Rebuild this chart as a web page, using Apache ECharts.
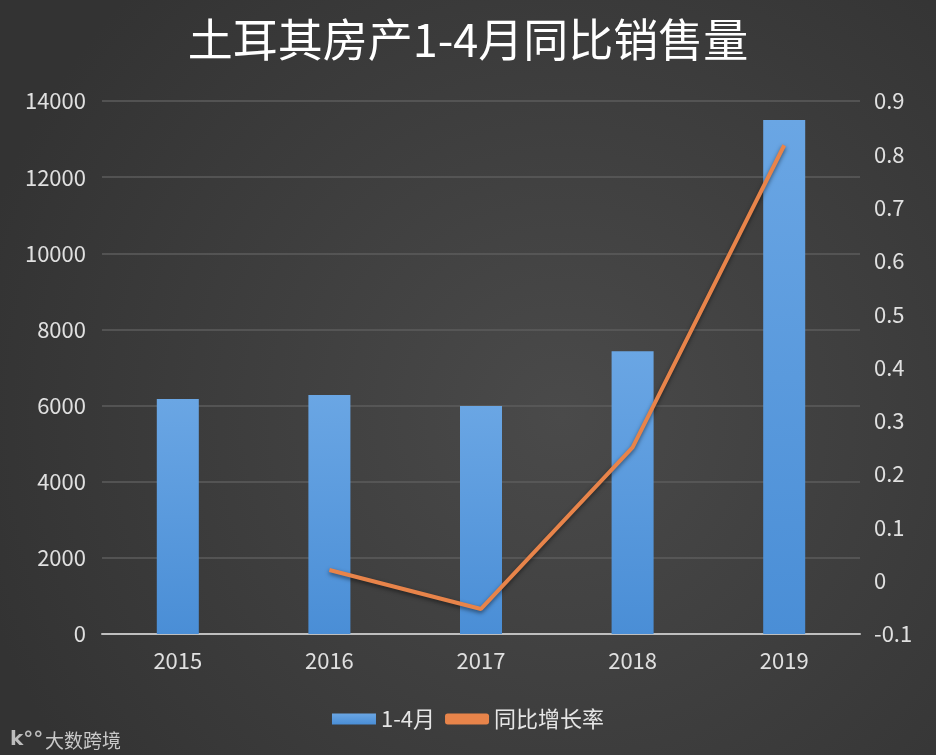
<!DOCTYPE html>
<html><head><meta charset="utf-8">
<script src="https://cdn.jsdelivr.net/npm/echarts@6/dist/echarts.min.js"></script>
<style>html,body{margin:0;padding:0;background:#3c3c3c}#c{width:936px;height:755px}</style>
</head><body><div id="c"></div>
<script>
const categories = ['2015','2016','2017','2018','2019'];
const sales = [6170, 6280, 5990, 7430, 13500];
const growth = [null, 0.02, -0.053, 0.25, 0.817];
const leftTicks = [0, 14000, 2000];
const rightTicks = [-0.1, 0.9, 0.1];
const font = '"Noto Sans CJK SC", "Noto Sans", sans-serif';

const chart = echarts.init(document.getElementById('c'));
chart.setOption({
  backgroundColor: {type:'radial', x:0.6, y:0.55, r:0.8, colorStops:[{offset:0,color:'#4a4a4a'},{offset:1,color:'#333333'}]},
  textStyle:{fontFamily:font},
  title:{text:'土耳其房产1-4月同比销售量', left:'center', top:12,
    textStyle:{color:'#ffffff', fontSize:45, fontWeight:'normal', fontFamily:font}},
  grid:{left:102, right:76, top:101, bottom:121},
  legend:{bottom:20, left:'center', itemWidth:44, itemHeight:11, itemGap:10,
    textStyle:{color:'#e6e6e6', fontSize:22, fontFamily:font},
    data:[{name:'1-4月', icon:'rect'}, {name:'同比增长率', icon:'roundRect', itemStyle:{color:'#e8844a'}}]},
  xAxis:{type:'category', data:categories,
    axisLine:{lineStyle:{color:'#bfbfbf', width:2}}, axisTick:{show:false},
    axisLabel:{color:'#e0e0e0', fontSize:22, margin:16, fontFamily:font}},
  yAxis:[
    {type:'value', min:leftTicks[0], max:leftTicks[1], interval:leftTicks[2],
     axisLine:{show:false}, axisTick:{show:false},
     splitLine:{lineStyle:{color:'#5c5c5c', width:1.5}},
     axisLabel:{color:'#e0e0e0', fontSize:22, margin:16, fontFamily:font, formatter:v=>String(v)}},
    {type:'value', min:rightTicks[0], max:rightTicks[1], interval:rightTicks[2],
     axisLine:{show:false}, axisTick:{show:false}, splitLine:{show:false},
     axisLabel:{color:'#e0e0e0', fontSize:22, margin:14, fontFamily:font,
       formatter:v=>String(Math.round(v*10)/10)}}
  ],
  series:[
    {name:'1-4月', type:'bar', data:sales, barWidth:42, yAxisIndex:0,
     itemStyle:{color:{type:'linear',x:0,y:0,x2:0,y2:1,colorStops:[{offset:0,color:'#6aa6e4'},{offset:1,color:'#4a8ed6'}]},
       shadowColor:'rgba(0,0,0,0.5)', shadowBlur:6, shadowOffsetX:2, shadowOffsetY:0}},
    {name:'同比增长率', type:'line', data:growth, yAxisIndex:1, symbol:'none', connectNulls:false,
     lineStyle:{color:'#e8844a', width:4, shadowColor:'rgba(0,0,0,0.5)', shadowBlur:4, shadowOffsetY:2},
     itemStyle:{color:'#e8844a'}}
  ],
  graphic:[
    {type:'text', left:10, bottom:5, style:{text:'k°°', fill:'#bdbdbd', font:'bold 20px "DejaVu Sans"'}},
    {type:'text', left:45, bottom:5, style:{text:'大数跨境', fill:'#c8c8c8', font:'19px "Noto Sans CJK SC"'}}
  ]
});
</script></body></html>
